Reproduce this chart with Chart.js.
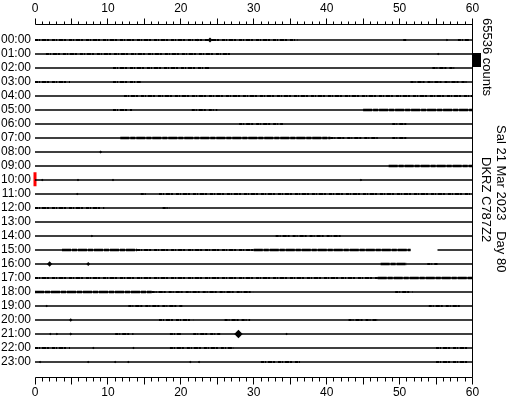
<!DOCTYPE html>
<html lang="en">
<head>
<meta charset="UTF-8">
<title>Helicorder DKRZ C787Z2</title>
<script src="https://cdn.jsdelivr.net/npm/chart.js@4.4.0/dist/chart.umd.min.js"></script>
<style>
  body { margin: 0; background: #ffffff; }
  #wrap { width: 512px; height: 400px; }
</style>
</head>
<body>
<div id="wrap"><canvas id="heli" width="512" height="400"></canvas></div>
<script>
// one trace per hour, x = minute within the hour
const hours = ['00:00', '01:00', '02:00', '03:00', '04:00', '05:00', '06:00', '07:00',
               '08:00', '09:00', '10:00', '11:00', '12:00', '13:00', '14:00', '15:00',
               '16:00', '17:00', '18:00', '19:00', '20:00', '21:00', '22:00', '23:00'];
const minuteTicks = [0, 10, 20, 30, 40, 50, 60];

// [hour row, from minute, to minute] - stretches with small wiggles
const speckle = [
  [0, 0, 36], [0, 50.5, 51], [0, 58, 59.5],
  [1, 1.5, 27],
  [2, 10.7, 24], [2, 54.5, 57.5],
  [3, 0, 4.8], [3, 10.7, 14.5], [3, 51.5, 59.3],
  [4, 12.2, 60],
  [5, 10.7, 13.3], [5, 21.5, 25],
  [6, 28, 34], [6, 49, 51],
  [7, 40.5, 47], [7, 49, 51],
  [11, 14.5, 15.3], [11, 17, 60],
  [12, 0, 9.5], [12, 17.5, 18.5],
  [14, 33, 42],
  [15, 14, 30],
  [16, 53.8, 55.2],
  [17, 0, 47],
  [18, 16, 30], [18, 49.4, 51.8],
  [19, 12.8, 20.3], [19, 54, 58.5],
  [20, 17, 21.7], [20, 26, 29.5], [20, 43, 47],
  [21, 11, 13.5], [21, 18.5, 20], [21, 21.7, 25.4],
  [22, 0, 4.8], [22, 18.5, 27.2], [22, 55, 59.5],
  [23, 31, 36.4], [23, 55, 59.5]
];
// stretches with stronger ground motion
const busy = [
  [5, 45, 60],
  [7, 11.7, 40.5],
  [9, 48.5, 60],
  [15, 3.7, 14], [15, 30, 51.5],
  [16, 47.4, 51],
  [17, 47, 60],
  [18, 0, 16]
];
// single events [row, minute, amplitude]
const spikes = [
  [0, 24.0, 2], [0, 22.3, 1], [0, 56.5, 1], [1, 55.3, 1],
  [8, 9.0, 1.2], [10, 1.0, 1], [10, 5.9, 1], [10, 10.7, 1], [10, 44.7, 1],
  [11, 5.8, 1], [14, 7.8, 1], [16, 2.0, 2.2], [16, 7.3, 1.6],
  [19, 1.6, 1], [20, 4.9, 1.4], [21, 2.1, 1], [21, 3.0, 1], [21, 4.9, 1.2],
  [21, 27.9, 3.5], [21, 34.5, 1], [22, 8.0, 1], [22, 13.5, 1],
  [23, 0.7, 1], [23, 7.3, 1], [23, 11, 1], [23, 12.8, 1], [23, 21.3, 1], [23, 22.5, 1]
];
// data gaps [row, from, to]
const gaps = [[15, 51.5, 55.2]];
const nowRow = 10;

function toPoints(list) {
  const pts = [];
  list.forEach(([row, a, b]) => {
    pts.push({ x: a, y: row }, { x: b, y: row }, { x: b, y: null });
  });
  return pts;
}

const baseline = [];
hours.forEach((h, row) => {
  let start = 0;
  gaps.filter(g => g[0] === row).forEach(([, a, b]) => {
    baseline.push([row, start, a]);
    start = b;
  });
  baseline.push([row, start, 60]);
});

const FONT = '"Liberation Sans", Arial, sans-serif';

const heliFrame = {
  id: 'heliFrame',
  afterDraw(chart) {
    const { ctx, chartArea: ca, scales } = chart;
    const xs = scales.x, ys = scales.y;
    const topY = Math.floor(ca.top) + 0.5;
    const botY = Math.floor(ca.bottom) + 0.5;
    const x0 = Math.floor(xs.getPixelForValue(0)) + 0.5;
    const x60 = Math.floor(xs.getPixelForValue(60)) + 0.5;
    ctx.save();
    ctx.strokeStyle = '#000';
    ctx.lineWidth = 1;
    ctx.beginPath();
    ctx.moveTo(x0, topY); ctx.lineTo(x60, topY);
    ctx.moveTo(x0, botY); ctx.lineTo(x60, botY);
    ctx.moveTo(x60, topY - 4); ctx.lineTo(x60, botY);
    for (let m = 0; m <= 60; m++) {
      const px = Math.floor(xs.getPixelForValue(m)) + 0.5;
      const len = m % 5 === 0 ? 6 : 3;
      ctx.moveTo(px, topY); ctx.lineTo(px, topY - len);
      ctx.moveTo(px, botY); ctx.lineTo(px, botY + len + 1);
    }
    ctx.stroke();

    // scale bar: one row spacing = 65536 counts
    const b1 = ys.getPixelForValue(0.9), b2 = ys.getPixelForValue(1.9);
    ctx.fillStyle = '#000';
    ctx.fillRect(Math.ceil(ca.right), Math.round(b1), 8, Math.round(b2 - b1));

    ctx.font = '13px ' + FONT;
    ctx.textAlign = 'left';
    ctx.textBaseline = 'middle';
    const vtext = (txt, x, y) => {
      ctx.save();
      ctx.translate(x, y);
      ctx.rotate(Math.PI / 2);
      ctx.fillText(txt, 0, 0);
      ctx.restore();
    };
    vtext('65536 counts', 487, 18);
    vtext('Sal 21 Mar 2023   Day 80', 501, 125);
    vtext('DKRZ C787Z2', 486, 157);
    ctx.restore();
  }
};

const lineSet = (data, width, dash) => ({
  data: data,
  showLine: true,
  borderColor: '#000',
  backgroundColor: '#000',
  borderWidth: width,
  borderDash: dash,
  borderCapStyle: 'butt',
  pointRadius: 0,
  spanGaps: false,
  tension: 0
});

new Chart(document.getElementById('heli'), {
  type: 'scatter',
  data: {
    datasets: [
      lineSet(toPoints(baseline), 1.6, []),
      lineSet(toPoints(speckle), 2.2, [3, 1, 1, 2, 4, 1, 2, 3]),
      lineSet(toPoints(busy), 2.6, [9, 1, 5, 1]),
      {
        data: spikes.map(([row, m]) => ({ x: m, y: row })),
        pointStyle: 'rectRot',
        pointRadius: spikes.map(s => s[2] * 1.2),
        backgroundColor: '#000',
        borderColor: '#000',
        borderWidth: 0
      },
      {
        data: [{ x: 0, y: nowRow - 0.55 }, { x: 0, y: nowRow + 0.45 }],
        showLine: true,
        borderColor: '#ff0000',
        borderWidth: 3,
        pointRadius: 0,
        clip: false
      }
    ]
  },
  options: {
    responsive: false,
    animation: false,
    devicePixelRatio: 1,
    layout: { padding: { left: 0, right: 39.5, top: 0, bottom: 0 } },
    plugins: { legend: { display: false }, tooltip: { enabled: false } },
    scales: {
      x: {
        type: 'linear', position: 'bottom', min: 0, max: 60,
        grid: { display: false, drawTicks: false },
        border: { display: false },
        afterBuildTicks: s => { s.ticks = minuteTicks.map(v => ({ value: v })); },
        ticks: { autoSkip: false, maxRotation: 0, padding: 8, color: '#000', font: { family: FONT, size: 12 } },
        afterFit: s => { s.height = 23; }
      },
      x2: {
        type: 'linear', position: 'top', min: 0, max: 60,
        grid: { display: false, drawTicks: false },
        border: { display: false },
        afterBuildTicks: s => { s.ticks = minuteTicks.map(v => ({ value: v })); },
        ticks: { autoSkip: false, maxRotation: 0, padding: 8, color: '#000', font: { family: FONT, size: 12 } },
        afterFit: s => { s.height = 24; }
      },
      y: {
        type: 'linear', reverse: true, min: -1.143, max: 24.071,
        grid: { display: false, drawTicks: false },
        border: { display: false },
        afterBuildTicks: s => { s.ticks = hours.map((h, i) => ({ value: i })); },
        ticks: { autoSkip: false, padding: 4, color: '#000', font: { family: FONT, size: 12 },
                 callback: v => hours[v] },
        afterFit: s => { s.width = 35; }
      }
    }
  },
  plugins: [heliFrame]
});
</script>
</body>
</html>
